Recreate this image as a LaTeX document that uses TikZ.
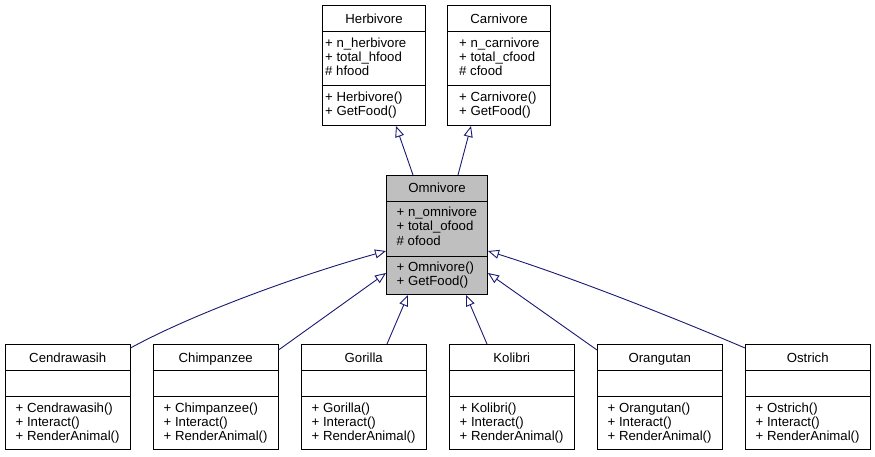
\documentclass[tikz,border=0pt]{standalone}
\usepackage{fontspec}
\setmainfont{Liberation Sans}
\usetikzlibrary{arrows.meta}
\definecolor{edgeblue}{HTML}{191970}
\definecolor{omnigray}{HTML}{BFBFBF}
\newcommand\classfont{\fontsize{13.2}{14.3}\selectfont}
\tikzset{
  box/.style={draw=black, line width=1pt, inner sep=0pt, anchor=north west, fill=white},
  sepl/.style={draw=black, line width=1pt},
  txt/.style={inner sep=0pt, anchor=base west, font=\classfont},
  ttl/.style={inner sep=0pt, anchor=base, font=\classfont},
  inh/.style={draw=edgeblue, line width=0.9pt, -{Triangle[open, length=11pt, width=9pt]}},
}
\newcommand\sepline[2]{\draw[sepl] ([yshift=-#2]#1.north west) -- ([yshift=-#2]#1.north east);}
\newcommand\lne[5]{\node[txt] (#1) at ([xshift=#3,yshift=-#4]#2.north west) {#5};}
\begin{document}
\begin{tikzpicture}[x=1pt,y=-1pt]
\useasboundingbox (0,0) rectangle (875,456);
% Herbivore
\node[box, minimum width=103pt, minimum height=120pt] (herb) at (322,5) {};
\sepline{herb}{26.5pt}
\sepline{herb}{80.5pt}
\node[ttl] (herb-t) at ([yshift=-18pt]herb.north) {Herbivore};
\lne{herb-a1}{herb}{3pt}{42pt}{+ n\_herbivore}
\lne{herb-a2}{herb}{3pt}{56.3pt}{+ total\_hfood}
\lne{herb-a3}{herb}{3pt}{70.6pt}{\# hfood}
\lne{herb-m1}{herb}{3pt}{96pt}{+ Herbivore()}
\lne{herb-m2}{herb}{3pt}{110.3pt}{+ GetFood()}
% Carnivore
\node[box, minimum width=103pt, minimum height=120pt] (carn) at (447,5) {};
\sepline{carn}{26.5pt}
\sepline{carn}{80.5pt}
\node[ttl] (carn-t) at ([yshift=-18pt]carn.north) {Carnivore};
\lne{carn-a1}{carn}{12pt}{42pt}{+ n\_carnivore}
\lne{carn-a2}{carn}{12pt}{56.3pt}{+ total\_cfood}
\lne{carn-a3}{carn}{12pt}{70.6pt}{\# cfood}
\lne{carn-m1}{carn}{12pt}{96pt}{+ Carnivore()}
\lne{carn-m2}{carn}{12pt}{110.3pt}{+ GetFood()}
% Omnivore
\node[box, fill=omnigray, minimum width=101pt, minimum height=119pt] (omni) at (386,175) {};
\sepline{omni}{26pt}
\sepline{omni}{81pt}
\node[ttl] (omni-t) at ([yshift=-17.5pt]omni.north) {Omnivore};
\lne{omni-a1}{omni}{10.5pt}{41.5pt}{+ n\_omnivore}
\lne{omni-a2}{omni}{10.5pt}{55.8pt}{+ total\_ofood}
\lne{omni-a3}{omni}{10.5pt}{70.1pt}{\# ofood}
\lne{omni-m1}{omni}{10.5pt}{96pt}{+ Omnivore()}
\lne{omni-m2}{omni}{10.5pt}{110.3pt}{+ GetFood()}
% derived classes
\foreach \n/\i/\t in {cend/0/Cendrawasih, chim/1/Chimpanzee, gor/2/Gorilla, kol/3/Kolibri, oran/4/Orangutan, ostr/5/Ostrich} {
  \node[box, minimum width=124.5pt, minimum height=105pt] (\n) at ({5+148*\i},344) {};
  \sepline{\n}{26pt}
  \sepline{\n}{52pt}
  \node[ttl] (\n-t) at ([yshift=-18pt]\n.north) {\t};
  \lne{\n-m1}{\n}{10.5pt}{68pt}{+ \t()}
  \lne{\n-m2}{\n}{10.5pt}{82pt}{+ Interact()}
  \lne{\n-m3}{\n}{10.5pt}{96pt}{+ RenderAnimal()}
}
% inheritance edges
\draw[inh] ([xshift=27pt]omni.north west) -- ([xshift=74pt]herb.south west);
\draw[inh] ([xshift=72pt]omni.north west) -- ([xshift=24pt]carn.south west);
\draw[inh] ([yshift=-4pt]cend.north east) .. controls +(60,-33) and +(-90,25) .. ([yshift=-76pt]omni.north west);
\draw[inh] ([yshift=-6pt]chim.north east) -- ([yshift=-98pt]omni.north west);
\draw[inh] ([xshift=86pt]gor.north west) -- ([xshift=22pt]omni.south west);
\draw[inh] ([xshift=38pt]kol.north west) -- ([xshift=80pt]omni.south west);
\draw[inh] ([yshift=-6pt]oran.north west) -- ([yshift=-98pt]omni.north east);
\draw[inh] ([yshift=-4pt]ostr.north west) .. controls +(-70,-30) and +(80,25) .. ([yshift=-76pt]omni.north east);
\end{tikzpicture}
\end{document}
